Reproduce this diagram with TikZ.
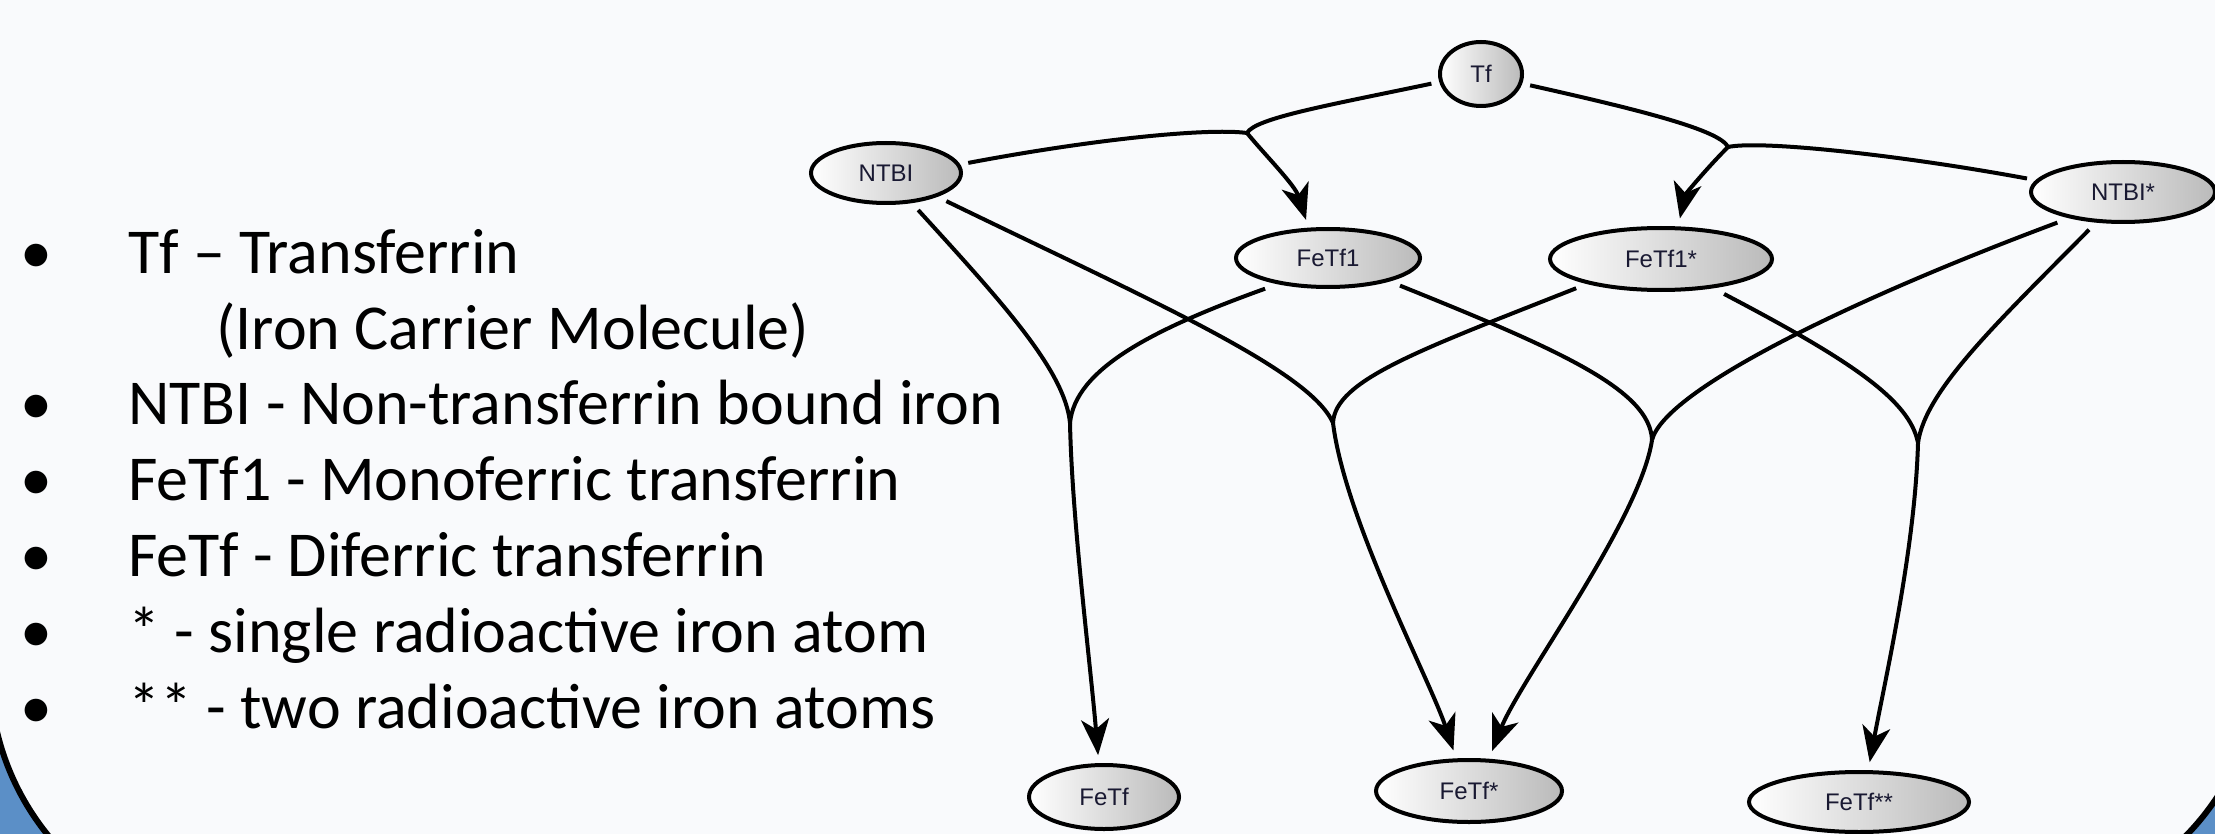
\documentclass[tikz,border=0pt]{standalone}
\usepackage{fontspec}
\setmainfont{Carlito}
\newfontfamily\nodefont{Liberation Sans}
\usetikzlibrary{arrows.meta,shapes.geometric}
\definecolor{bgc}{RGB}{249,250,252}
\definecolor{frameblue}{RGB}{91,143,199}
\definecolor{lbl}{RGB}{25,25,50}
\tikzset{
  st/.style={ellipse, draw=black, line width=4pt, inner sep=0pt, outer sep=10pt,
    left color=white, right color=black!27, text=lbl,
    font=\nodefont\fontsize{24}{26}\selectfont},
  edgeline/.style={line width=4pt, draw=black},
  arr/.style={edgeline, -{Stealth[length=36pt, width=28pt, inset=10pt]}},
  legend/.style={anchor=base west, inner sep=0pt, font=\fontsize{64}{72}\selectfont},
  bul/.style={anchor=base, inner sep=0pt, font=\fontsize{64}{72}\selectfont},
}
\begin{document}
\begin{tikzpicture}[x=1pt, y=-1pt]
\useasboundingbox (0,0) rectangle (2215,834);
% background and frame
\fill[frameblue] (0,0) rectangle (2215,834);
\begin{scope}
  \clip (0,0) rectangle (2215,834);
  \filldraw[fill=bgc, draw=black, line width=6pt]
    (-10,-50) -- (-10,671.5) arc[start angle=180, end angle=90, radius=260]
    -- (2000,914) arc[start angle=90, end angle=0, radius=260]
    -- (2260,-50) -- cycle;
\end{scope}

% legend
\node[bul] (b1) at (36,273) {•};
\node[legend] (l1) at (128,273) {Tf – Transferrin};
\node[legend] (l1b) at (216,349) {(Iron Carrier Molecule)};
\node[bul] (b2) at (36,424) {•};
\node[legend] (l2) at (128,424) {NTBI - Non-transferrin bound iron};
\node[bul] (b3) at (36,500) {•};
\node[legend] (l3) at (128,500) {FeTf1 - Monoferric transferrin};
\node[bul] (b4) at (36,576) {•};
\node[legend] (l4) at (128,576) {FeTf - Diferric transferrin};
\node[bul] (b5) at (36,652) {•};
\node[legend] (l5) at (128,652) {* - single radioactive iron atom};
\node[bul] (b6) at (36,728) {•};
\node[legend] (l6) at (128,728) {** - two radioactive iron atoms};

% nodes
\node[st, minimum width=82pt, minimum height=64pt] (Tf) at (1481,74) {Tf};
\node[st, minimum width=150pt, minimum height=60pt] (NTBI) at (886,173) {NTBI};
\node[st, minimum width=184pt, minimum height=58pt] (FeTf1) at (1328,258) {FeTf1};
\node[st, minimum width=222pt, minimum height=62pt] (FeTf1s) at (1661,259) {FeTf1*};
\node[st, minimum width=184pt, minimum height=60pt] (NTBIs) at (2123,192) {NTBI*};
\node[st, minimum width=150pt, minimum height=64pt] (FeTf) at (1104,797) {FeTf};
\node[st, minimum width=186pt, minimum height=62pt] (FeTfs) at (1469,791) {FeTf*};
\node[st, minimum width=220pt, minimum height=60pt] (FeTfss) at (1859,802) {FeTf**};

% junction points
\coordinate (cA) at (1247,133);
\coordinate (cB) at (1728,147);
\coordinate (cC) at (1070,423);
\coordinate (cD) at (1333,423);
\coordinate (cE) at (1652,440);
\coordinate (cF) at (1918,443);

% A: NTBI + Tf -> FeTf1
\draw[edgeline] (NTBI.7) .. controls (1100,138) and (1210,128) .. (cA);
\draw[edgeline] (Tf.191) .. controls (1330,105) and (1255,118) .. (cA);
\draw[arr] (cA) .. controls (1265,155) and (1295,185) .. (FeTf1.120);

% B: Tf + NTBI* -> FeTf1*
\draw[edgeline] (Tf.347) .. controls (1640,110) and (1720,130) .. (cB);
\draw[edgeline] (NTBIs.172) .. controls (1900,155) and (1760,140) .. (cB);
\draw[arr] (cB) .. controls (1705,170) and (1685,195) .. (FeTf1s.65);

% C: NTBI + FeTf1 -> FeTf
\draw[edgeline] (NTBI.311) .. controls (1000,300) and (1065,370) .. (cC);
\draw[edgeline] (FeTf1.206) .. controls (1150,330) and (1075,370) .. (cC);
\draw[arr] (cC) .. controls (1072,520) and (1090,660) .. (FeTf.98);

% D: NTBI + FeTf1* -> FeTf*
\draw[edgeline] (NTBI.335) .. controls (1150,300) and (1310,370) .. (cD);
\draw[edgeline] (FeTf1s.199) .. controls (1420,350) and (1335,380) .. (cD);
\draw[arr] (cD) .. controls (1345,520) and (1430,680) .. (FeTfs.111);

% E: FeTf1 + NTBI* -> FeTf*
\draw[edgeline] (FeTf1.339) .. controls (1560,350) and (1650,390) .. (cE);
\draw[edgeline] (NTBIs.205) .. controls (1850,300) and (1665,390) .. (cE);
\draw[arr] (cE) .. controls (1640,520) and (1520,680) .. (FeTfs.60);

% F: FeTf1* + NTBI* -> FeTf**
\draw[edgeline] (FeTf1s.331) .. controls (1850,360) and (1910,400) .. (cF);
\draw[edgeline] (NTBIs.228) .. controls (2000,320) and (1925,390) .. (cF);
\draw[arr] (cF) .. controls (1915,550) and (1885,680) .. (FeTfss.75);
\end{tikzpicture}
\end{document}
